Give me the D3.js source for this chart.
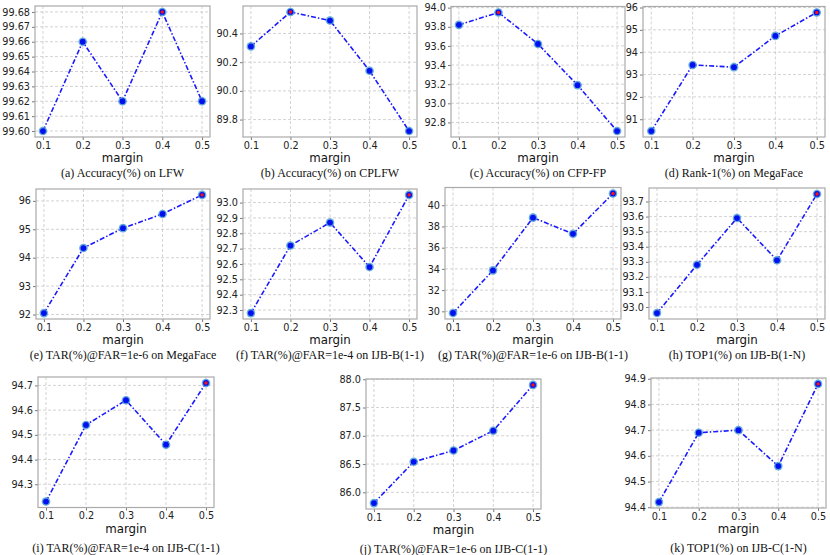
<!DOCTYPE html>
<html>
<head>
<meta charset="utf-8">
<script src="https://cdn.jsdelivr.net/npm/d3@7"></script>
<style>
  body { margin: 0; background: #fff; }
  svg { display: block; }
</style>
</head>
<body>
<svg id="chart"></svg>
<script>
const W = 830, H = 555;

// x values shared by all panels
const margins = [0.1, 0.2, 0.3, 0.4, 0.5];

// values per panel
const lfw       = [99.60, 99.66, 99.62, 99.68, 99.62];
const cplfw     = [90.31, 90.55, 90.49, 90.14, 89.72];
const cfpfp     = [93.82, 93.95, 93.62, 93.19, 92.71];
const mfRank1   = [90.47, 93.43, 93.33, 94.73, 95.78];
const mfTar     = [92.05, 94.34, 95.04, 95.54, 96.21];
const ijbbTar4  = [92.28, 92.72, 92.87, 92.58, 93.05];
const ijbbTar6  = [29.84, 33.86, 38.83, 37.31, 41.11];
const ijbbTop1  = [92.96, 93.28, 93.59, 93.31, 93.75];
const ijbcTar4  = [94.23, 94.54, 94.64, 94.46, 94.71];
const ijbcTar6  = [85.81, 86.54, 86.74, 87.09, 87.90];
const ijbcTop1  = [94.42, 94.69, 94.70, 94.56, 94.88];

const captions = [
  "(a) Accuracy(%) on LFW",
  "(b) Accuracy(%) on CPLFW",
  "(c) Accuracy(%) on CFP-FP",
  "(d) Rank-1(%) on MegaFace",
  "(e) TAR(%)@FAR=1e-6 on MegaFace",
  "(f) TAR(%)@FAR=1e-4 on IJB-B(1-1)",
  "(g) TAR(%)@FAR=1e-6 on IJB-B(1-1)",
  "(h) TOP1(%) on IJB-B(1-N)",
  "(i) TAR(%)@FAR=1e-4 on IJB-C(1-1)",
  "(j) TAR(%)@FAR=1e-6 on IJB-C(1-1)",
  "(k) TOP1(%) on IJB-C(1-N)"
];

// y tick values per panel
const yTicks = [
  [99.60, 99.61, 99.62, 99.63, 99.64, 99.65, 99.66, 99.67, 99.68],
  [89.8, 90.0, 90.2, 90.4],
  [92.8, 93.0, 93.2, 93.4, 93.6, 93.8, 94.0],
  [91, 92, 93, 94, 95, 96],
  [92, 93, 94, 95, 96],
  [92.3, 92.4, 92.5, 92.6, 92.7, 92.8, 92.9, 93.0],
  [30, 32, 34, 36, 38, 40],
  [93.0, 93.1, 93.2, 93.3, 93.4, 93.5, 93.6, 93.7],
  [94.3, 94.4, 94.5, 94.6, 94.7],
  [86.0, 86.5, 87.0, 87.5, 88.0],
  [94.4, 94.5, 94.6, 94.7, 94.8, 94.9]
];
const yFormats = [".2f", ".1f", ".1f", "d", "d", ".1f", "d", ".1f", ".1f", ".1f", ".1f"];

const series = [lfw, cplfw, cfpfp, mfRank1, mfTar, ijbbTar4, ijbbTar6, ijbbTop1, ijbcTar4, ijbcTar6, ijbcTop1];

// frame boxes of each subplot: [left, top, right, bottom]
const boxes = [
  [35, 6, 210, 137], [243, 6, 417, 137], [451, 6.5, 625, 137], [643, 6.5, 825, 137],
  [36, 189, 210, 319], [243, 189, 417, 319], [445, 187.5, 621, 319], [649, 188, 825, 319],
  [38, 377, 214, 507.5], [366, 379, 541, 509], [651, 378, 826, 508]
];

const svg = d3.select("#chart").attr("width", W).attr("height", H);

series.forEach((vals, i) => {
  const [x0, y0, x1, y1] = boxes[i];
  const data = margins.map((m, k) => ({ m, v: vals[k] }));

  // matplotlib-like 5% padding on both axes
  const [xa, xb] = d3.extent(margins);
  const [ya, yb] = d3.extent(vals);
  const px = (xb - xa) * 0.05, py = (yb - ya) * 0.05;
  const x = d3.scaleLinear().domain([xa - px, xb + px]).range([x0, x1]);
  const y = d3.scaleLinear().domain([ya - py, yb + py]).range([y1, y0]);

  const g = svg.append("g");

  // grid
  g.append("g").selectAll("line").data(margins).join("line")
    .attr("x1", d => x(d)).attr("x2", d => x(d))
    .attr("y1", y0).attr("y2", y1)
    .attr("stroke", "#c8c8c8").attr("stroke-width", 0.8).attr("stroke-dasharray", "3,2");
  g.append("g").selectAll("line").data(yTicks[i]).join("line")
    .attr("x1", x0).attr("x2", x1)
    .attr("y1", d => y(d)).attr("y2", d => y(d))
    .attr("stroke", "#c8c8c8").attr("stroke-width", 0.8).attr("stroke-dasharray", "3,2");

  // axes
  const xAxis = g.append("g")
    .attr("transform", `translate(0,${y1})`)
    .call(d3.axisBottom(x).tickValues(margins).tickFormat(d3.format(".1f")).tickSize(3).tickPadding(2));
  const yAxis = g.append("g")
    .attr("transform", `translate(${x0},0)`)
    .call(d3.axisLeft(y).tickValues(yTicks[i]).tickFormat(d3.format(yFormats[i])).tickSize(3).tickPadding(2));
  [xAxis, yAxis].forEach(a => {
    a.select(".domain").remove();
    a.selectAll(".tick line").attr("stroke", "#555").attr("stroke-width", 0.8);
    a.selectAll("text")
      .attr("fill", "#222")
      .style("font-family", "DejaVu Sans, sans-serif")
      .style("font-size", "9.7px");
  });

  // frame
  g.append("rect")
    .attr("x", x0).attr("y", y0)
    .attr("width", x1 - x0).attr("height", y1 - y0)
    .attr("fill", "none").attr("stroke", "#aaaaaa").attr("stroke-width", 1.2);

  // line
  const line = d3.line().x(d => x(d.m)).y(d => y(d.v));
  g.append("path").datum(data)
    .attr("d", line)
    .attr("fill", "none")
    .attr("stroke", "#1a1aff")
    .attr("stroke-width", 1.6)
    .attr("stroke-dasharray", "5,2,1.5,2");

  // markers
  const best = d3.maxIndex(vals);
  g.append("g").selectAll("circle").data(data).join("circle")
    .attr("cx", d => x(d.m)).attr("cy", d => y(d.v))
    .attr("r", 4.3).attr("fill", "#4a9ad6").attr("opacity", 0.85);
  g.append("g").selectAll("circle").data(data).join("circle")
    .attr("cx", d => x(d.m)).attr("cy", d => y(d.v))
    .attr("r", 2.9).attr("fill", "#0010f0");
  g.append("circle")
    .attr("cx", x(margins[best])).attr("cy", y(vals[best]))
    .attr("r", 1.7).attr("fill", "#ff1010");

  // labels
  const cx = (x0 + x1) / 2;
  g.append("text")
    .attr("x", cx).attr("y", y1 + 25)
    .attr("text-anchor", "middle")
    .style("font-family", "DejaVu Sans, sans-serif")
    .style("font-size", "11.8px")
    .attr("fill", "#111")
    .text("margin");
  g.append("text")
    .attr("x", cx).attr("y", y1 + (i >= 8 ? 44 : 40))
    .attr("text-anchor", "middle")
    .style("font-family", "Liberation Serif, Times New Roman, serif")
    .style("font-size", "12px")
    .attr("fill", "#111")
    .text(captions[i]);
});
</script>
</body>
</html>
